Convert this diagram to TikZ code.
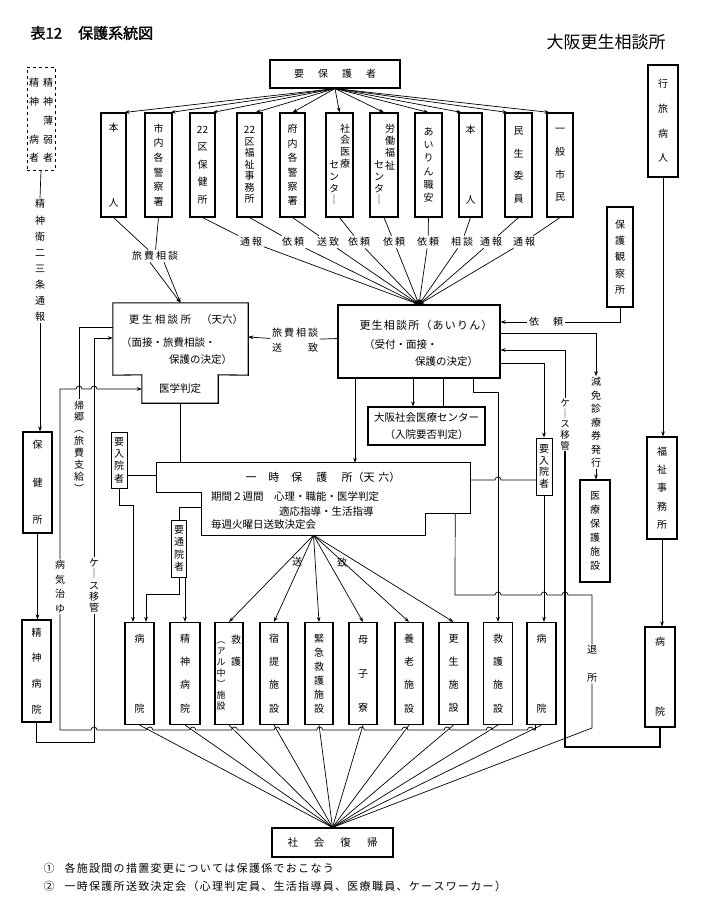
\documentclass[tikz,border=0pt]{standalone}
\usepackage{fontspec}
\setmainfont{Noto Sans CJK JP}[AutoFakeBold=1.5]
\usetikzlibrary{arrows.meta,calc}
\newcommand\vf[1]{\fontsize{10}{#1}\selectfont}
\newcommand\hop{arc[start angle=180,end angle=0,radius=3pt]}
\makeatletter
\newcommand\spc[2]{\@tfor\spcx:=#2\do{\spcx\hspace{#1}}\unskip}
\makeatother
\tikzset{
  bx/.style={draw, line width=1.1pt, inner sep=0pt, align=center, font=\vf{14}},
  vt/.style={inner sep=1pt, align=center},
  txt/.style={inner sep=1pt, font=\fontsize{10.5}{12}\selectfont},
  lab/.style={inner sep=1.5pt, font=\fontsize{10}{12}\selectfont},
  ln/.style={line width=0.7pt},
  arr/.style={line width=0.7pt, -{Stealth[length=5pt,width=3.6pt]}},
}
\begin{document}
\begin{tikzpicture}[x=1pt,y=-1pt]
\useasboundingbox (0,0) rectangle (701,917);
\fill[white] (0,0) rectangle (701,917);

\coordinate (k475) at (0,475);
\coordinate (k480) at (0,480);
\coordinate (k507) at (0,507);
\coordinate (k594) at (0,594);
\coordinate (k595) at (0,595);
\coordinate (k730) at (0,730);
\coordinate (k742) at (0,742);
\coordinate (k747) at (0,747);
\coordinate (kt) at (592,728);

% titles
\node[anchor=west, font=\fontsize{15}{15}\selectfont\bfseries] (title) at (27,33) {表12\hspace{16pt}保護系統図};
\node[font=\fontsize{17}{17}\selectfont] (org) at (606,42) {大阪更生相談所};

\node[bx, minimum width=130, minimum height=28, font=\fontsize{10}{10}\selectfont] (yoho) at (335,74) {\spc{14pt}{要保護者}};

% top row
\node[bx, minimum width=25, minimum height=104, font=\vf{15}] (b1) at (113.5,165) {本\\[60pt]人};
\node[bx, minimum width=27, minimum height=104, font=\vf{14.6}] (b2) at (158.5,165) {市\\内\\各\\警\\察\\署};
\node[bx, minimum width=25, minimum height=104, font=\vf{17.5}] (b3) at (202.5,165) {22\\区\\保\\健\\所};
\node[bx, minimum width=25, minimum height=104, font=\vf{11.5}] (b4) at (249.5,165) {22\\区\\福\\祉\\事\\務\\所};
\node[bx, minimum width=25, minimum height=104, font=\vf{14.4}] (b5) at (292.5,165) {府\\内\\各\\警\\察\\署};
\node[bx, minimum width=27, minimum height=104] (b6) at (339.5,165) {};
\node[vt, font=\vf{11.7}] (b6a) at (345,146) {社\\会\\医\\療};
\node[vt, font=\vf{11.7}] (b6b) at (334,183) {セ\\ン\\タ\\｜};
\node[bx, minimum width=28, minimum height=104] (b7) at (384,165) {};
\node[vt, font=\vf{12.3}] (b7a) at (390,147) {労\\働\\福\\祉};
\node[vt, font=\vf{11.7}] (b7b) at (379,183) {セ\\ン\\タ\\｜};
\node[bx, minimum width=27, minimum height=104, font=\vf{13.2}] (b8) at (428.5,165) {あ\\い\\り\\ん\\職\\安};
\node[bx, minimum width=23, minimum height=104, font=\vf{15}] (b9) at (470.5,165) {本\\[55pt]人};
\node[bx, minimum width=27, minimum height=104, font=\vf{22.7}] (b10) at (518.5,165) {民\\生\\委\\員};
\node[bx, minimum width=26, minimum height=104, font=\vf{22.7}] (b11) at (560,165) {一\\般\\市\\民};

\draw[arr] (yoho.south) -- ([xshift=-2]b1.north east);
\draw[arr] (yoho.south) -- ([xshift=-2]b2.north east);
\draw[arr] (yoho.south) -- ([xshift=-3]b3.north east);
\draw[arr] (yoho.south) -- ([xshift=-7]b4.north east);
\draw[arr] (yoho.south) -- (b5.north);
\draw[arr] (yoho.south) -- (b6.north);
\draw[arr] (yoho.south) -- (b7.north);
\draw[arr] (yoho.south) -- (b8.north);
\draw[arr] (yoho.south) -- ([xshift=3]b9.north west);
\draw[arr] (yoho.south) -- ([xshift=3]b10.north west);
\draw[arr] (yoho.south) -- ([xshift=3]b11.north west);

% labels
\node[lab] (ryohi) at (155,256) {\spc{2pt}{旅費相談}};
\node[lab] (l1) at (251,242) {\spc{2pt}{通報}};
\node[lab] (l2) at (293,242) {\spc{2pt}{依頼}};
\node[lab] (l3) at (328,242) {\spc{2pt}{送致}};
\node[lab] (l4) at (359,242) {\spc{2pt}{依頼}};
\node[lab] (l5) at (394,242) {\spc{2pt}{依頼}};
\node[lab] (l6) at (428,242) {\spc{2pt}{依頼}};
\node[lab] (l7) at (462,242) {\spc{2pt}{相談}};
\node[lab] (l8) at (491,242) {\spc{2pt}{通報}};
\node[lab] (l9) at (524,242) {\spc{2pt}{通報}};

\draw[ln] (b1.south) -- (ryohi);
\draw[ln] (b2.south) -- (ryohi);
\draw[ln] (b3.south) -- (l1);
\draw[ln] (b4.south) -- (l2);
\draw[ln] (b5.south) -- (l3);
\draw[ln] (b6.south) -- (l4);
\draw[ln] (b7.south) -- (l5);
\draw[ln] (b8.south) -- (l6);
\draw[ln] (b9.south) -- (l7);
\draw[ln] (b10.south) -- (l8);
\draw[ln] (b11.south) -- (l9);

% Airin office
\node[bx, minimum width=162, minimum height=73] (A) at (419,341.5) {};
\node[txt, font=\fontsize{11}{12}\selectfont] (a1) at (426,325) {\spc{1.2pt}{更生相談所（あいりん）}};
\node[txt, anchor=west] (a2) at (363,345) {（受付・面接・};
\node[txt, anchor=west] (a3) at (414,362) {保護の決定）};

\foreach \l in {l1,l2,l3,l4,l5,l6,l7,l8,l9} \draw[arr] (\l) -- (A.north);

% Tenroku office
\node[minimum width=135, minimum height=72, inner sep=0] (T) at (180.5,339) {};
\node[minimum width=76, minimum height=28, inner sep=0, font=\fontsize{10.5}{12}\selectfont] (G) at (180,389) {医学判定};
\draw[line width=1.1pt] (T.north west) -- (T.north east) -- (T.south east) -- (G.north east) -- (G.south east) -- (G.south west) -- (G.north west) -- (T.south west) -- cycle;
\node[txt] (t1) at (186,320) {\spc{2.5pt}{更生相談所}\hspace{10pt}（天六）};
\node[txt, anchor=west] (t2) at (120,343) {（面接・旅費相談・};
\node[txt, anchor=west] (t3) at (168,360) {保護の決定）};

\draw[arr] ([xshift=-5]ryohi.south) -- (T.north);
\draw[arr] ([xshift=9]ryohi.south) -- (T.north);

% between offices
\node[inner sep=1.5pt, align=left, font=\fontsize{10}{15}\selectfont] (kotsu) at (295,340) {\spc{2pt}{旅費相談}\\送\hspace{26pt}致};
\draw[arr] ([yshift=3]A.west) -- (kotsu) -- ([yshift=2]T.east);

% right column
\node[bx, minimum width=30, minimum height=112, font=\vf{24.7}] (R1) at (663,121) {行\\旅\\病\\人};
\node[bx, minimum width=26, minimum height=100, font=\vf{16.25}] (R2) at (620,257) {保\\護\\観\\察\\所};
\node[bx, minimum width=30, minimum height=102, font=\vf{18.3}] (R3) at (662,488) {福\\祉\\事\\務\\所};
\node[bx, minimum width=30, minimum height=102, font=\vf{14}] (R4) at (595,531) {医\\療\\保\\護\\施\\設};
\node[bx, minimum width=30, minimum height=100, font=\vf{15}] (R5) at (660,677) {病\\[55pt]院};
\draw[arr] (R1.south) -- (R1.south |- R3.north);
\draw[arr] (R3.south) -- (R3.south |- R5.north);

\node[lab] (yorai) at (546,322) {依\hspace{14pt}頼};
\draw[ln] (R2.south) |- (yorai.east);
\draw[arr] (yorai.west) -- (A.east |- yorai.west);

\node[vt, font=\vf{13.5}] (gen) at (596,422.5) {減\\免\\診\\療\\券\\発\\行};
\draw[arr] ([yshift=8.5]A.east) -| (gen.north);
\draw[arr] (gen.south) -- (gen.south |- R4.north);

\node[vt, font=\fontsize{9.5}{10.8}\selectfont] (caseR) at (565,424.5) {ケ\\｜\\ス\\移\\管};
\draw[line width=1.2pt] (R5.south) |- (caseR.south |- k747) -- (caseR.south);
\draw[arr] (caseR.north) |- ([yshift=-8.5]A.east);

% Medical center
\node[bx, minimum width=117, minimum height=38, font=\fontsize{10.5}{17}\selectfont] (S) at (426.5,426) {大阪社会医療センター\\（入院要否判定）};
\draw[arr] ([xshift=-6]A.south) -- ([xshift=-6]A.south |- S.north);
\draw[ln] ([xshift=16.5]S.north) -- ([xshift=16.5]S.north |- A.south);

% temporary shelter
\node[minimum width=313, minimum height=50, inner sep=0] (I) at (313.5,488) {};
\node[minimum width=223, minimum height=42, inner sep=0] (B) at (313.5,514) {};
\draw[line width=1.1pt] (I.north west) -- (I.north east) -- (I.south east) -- (I.south -| B.east) -- (B.south east) -- (B.south west) -- (B.north west) -- (I.west |- B.north) -- cycle;
\node[txt, font=\fontsize{11}{12}\selectfont] (i1) at (323,477) {一\hspace{12pt}時\hspace{12pt}保\hspace{14pt}護\hspace{14pt}所（天\hspace{4pt}六）};
\node[txt, anchor=west] (i2) at (210,497) {期間２週間　心理・職能・医学判定};
\node[txt, anchor=west] (i3) at (278,511) {適応指導・生活指導};
\node[txt, anchor=west] (i4) at (210,525) {毎週火曜日送致決定会};

\draw[arr] ([xshift=-64]A.south) -- ([xshift=-64]A.south |- I.north);
\draw[ln] (G.south) -- (G.south |- I.north);

% admission / outpatient
\node[bx, line width=0.9pt, minimum width=16, minimum height=56, font=\vf{12.3}] (Y1) at (119,460) {要\\入\\院\\者};
\node[bx, line width=0.9pt, minimum width=16, minimum height=57, font=\vf{11.7}] (Y2) at (544,466.5) {要\\入\\院\\者};
\node[bx, line width=0.9pt, minimum width=15, minimum height=57, font=\vf{12.3}] (Y3) at (179,548.5) {要\\通\\院\\者};

\draw[ln] (I.west |- k475) -- (Y1.east |- k475);
\draw[ln] (I.east |- k480) -- (495,480) \hop -- (Y2.west |- k480);
\draw[arr] ([yshift=-21.5]A.east) -| (Y2.north);
\draw[ln] (B.west |- k507) -| (Y3.north);

% bottom row
\node[bx, minimum width=29, minimum height=102, font=\vf{15}] (c1) at (139.5,673.5) {病\\[55pt]院};
\node[bx, minimum width=30, minimum height=102, font=\vf{23.3}] (c2) at (185,673.5) {精\\神\\病\\院};
\node[bx, minimum width=28, minimum height=102] (c3) at (229,673.5) {};
\node[vt, font=\vf{22}] (c3a) at (236,651) {救\\護};
\node[vt, font=\fontsize{9}{11}\selectfont] (c3b) at (221,676) {︵\\ア\\ル\\中\\︶\\施\\設};
\node[bx, minimum width=28, minimum height=102, font=\vf{23.3}] (c4) at (274,673.5) {宿\\提\\施\\設};
\node[bx, minimum width=28, minimum height=102, font=\vf{14}] (c5) at (319,673.5) {緊\\急\\救\\護\\施\\設};
\node[bx, minimum width=28, minimum height=102, font=\vf{34}] (c6) at (363,673.5) {母\\子\\寮};
\node[bx, minimum width=28, minimum height=102, font=\vf{23.3}] (c7) at (409,673.5) {養\\老\\施\\設};
\node[bx, minimum width=29, minimum height=102, font=\vf{23.3}] (c8) at (453.5,673.5) {更\\生\\施\\設};
\node[bx, minimum width=29, minimum height=102, font=\vf{23.3}] (c9) at (498,673.5) {救\\護\\施\\設};
\node[bx, minimum width=29, minimum height=102, font=\vf{15}] (c10) at (541.5,673.5) {病\\[55pt]院};

\draw[arr] ([xshift=54]A.south) -- ++(0,14) -| (c9.north);
\draw[arr] (Y2.south) -- (Y2.south |- c10.north);
\draw[arr] (Y1.south) -- ++(0,17) -| ([xshift=-6.5]c1.north);
\draw[arr] (Y3.south -| c2.north) -- (c2.north);
\draw[arr] (Y3.south) |- ([xshift=6.5]c1.north |- k594) -- ([xshift=6.5]c1.north);

\node[lab] (so) at (297,562) {送};
\node[lab] (chi) at (342,563) {致};
\foreach \n in {c3,c4,c5,c6,c7,c8} \draw[arr] (B.south) -- (\n.north);

% leave
\node[vt, font=\vf{28}] (taisho) at (592,664) {退\\所};
\draw[ln] ([xshift=-15]I.south east) -- (455,595) -- (495,595) \hop -- (541,595) \hop -- (562,595) \hop -- (taisho.north |- k595) -- (taisho.north);

% left column
\node[bx, dashed, line width=0.8pt, minimum width=28, minimum height=103] (L1) at (41,118.5) {};
\node[vt, font=\vf{18.75}] (L1a) at (48,120.5) {精\\神\\薄\\弱\\者};
\node[vt, font=\vf{18.75}] (L1b) at (34,120.5) {精\\神\\[18.75pt]病\\者};
\node[vt, font=\vf{16.1}] (law) at (40,260.5) {精\\神\\衛\\二\\三\\条\\通\\報};
\node[bx, minimum width=29, minimum height=101, font=\vf{37.5}] (L2) at (37.5,482.5) {保\\健\\所};
\node[bx, minimum width=29, minimum height=102, font=\vf{25.7}] (L3) at (36.5,671) {精\\神\\病\\院};
\draw[ln] (L1.south) -- (law.north);
\draw[arr] (law.south) -- (law.south |- L2.north);
\draw[arr] (L2.south) -- (L2.south |- L3.north);

\node[vt, font=\vf{11.9}] (kikyo) at (79,446.5) {帰\\郷\\︵\\旅\\費\\支\\給\\︶};
\node[vt, font=\vf{14.5}] (byoki) at (60,586.5) {病\\気\\治\\ゆ};
\node[vt, font=\vf{11.3}] (caseL) at (94,585.5) {ケ\\｜\\ス\\移\\管};

\draw[ln] ([yshift=12]T.west) -| (kikyo.north);
\draw[arr] (byoki.north) -- (byoki.north |- G.west) -- (76,389) \hop -- (91,389) \hop -- (G.west);
\draw[ln] (byoki.south) -- (60,730) -- (91,730) \hop -- (146.8,730) \hop -- (189.8,730) \hop -- (231.5,730) \hop -- (274.1,730) \hop -- (316.7,730) \hop -- (358.4,730) \hop -- (401.9,730) \hop -- (444.1,730) \hop -- (486.2,730) \hop -- (527.4,730) \hop -- ([xshift=-6]c10.south |- k730) -- ([xshift=-6]c10.south);
\draw[ln] (L3.south) |- (caseL.south |- k742) -- (caseL.south);
\draw[arr] (caseL.north) |- ([yshift=1]T.west);

% social reintegration
\node[bx, minimum width=121, minimum height=29, font=\fontsize{10.5}{12}\selectfont] (SH) at (332.5,842.5) {\spc{16pt}{社会復帰}};
\foreach \n in {c1,c2,c3,c4,c5,c6,c7,c8,c9,c10} \draw[ln] (\n.south) -- (SH.north);
\draw[ln] (taisho.south) -- (kt) -- (SH.north);

% footnotes
\node[anchor=west, font=\fontsize{11}{11}\selectfont] (fn1) at (40,868) {①\hspace{10pt}\spc{1.3pt}{各施設間の措置変更については保護係でおこなう}};
\node[anchor=west, font=\fontsize{11}{11}\selectfont] (fn2) at (40,886) {②\hspace{10pt}\spc{1.3pt}{一時保護所送致決定会（心理判定員、生活指導員、医療職員、ケースワーカー）}};
\end{tikzpicture}
\end{document}
